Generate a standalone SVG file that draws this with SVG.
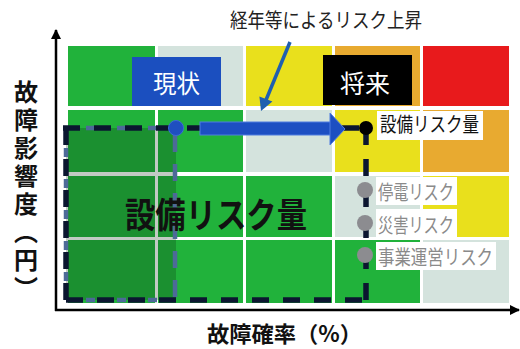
<svg xmlns="http://www.w3.org/2000/svg" width="520" height="349" viewBox="0 0 520 349">
<style>
.g{fill:#21b23b}.l{fill:#d4e3dd}.y{fill:#e9e01c}.o{fill:#e8aa30}.r{fill:#e81a1c}
.t{font-family:"Noto Sans CJK JP","Noto Sans",sans-serif}
.b{font-weight:bold;fill:#111}
.lab{font-size:20px;fill:#8a8a8a}
.box{fill:#fff}
</style>
<defs>
<marker id="ah" markerWidth="10" markerHeight="10" refX="9" refY="5" orient="auto" markerUnits="userSpaceOnUse">
<path d="M0,0 L10,5 L0,10 Z" fill="#000"/>
</marker>
</defs>
<rect width="520" height="349" fill="#fff"/>
<g id="grid">
<rect class="g" x="68" y="46" width="87" height="60"/>
<rect class="l" x="158" y="46" width="85" height="60"/>
<rect class="y" x="246" y="46" width="86" height="60"/>
<rect class="o" x="335" y="46" width="85" height="60"/>
<rect class="r" x="423" y="46" width="86" height="60"/>
<rect class="g" x="68" y="110" width="87" height="62"/>
<rect class="g" x="158" y="110" width="85" height="62"/>
<rect class="l" x="246" y="110" width="86" height="62"/>
<rect class="y" x="335" y="110" width="85" height="62"/>
<rect class="o" x="423" y="110" width="86" height="62"/>
<rect class="g" x="68" y="176" width="87" height="61"/>
<rect class="g" x="158" y="176" width="85" height="61"/>
<rect class="g" x="246" y="176" width="86" height="61"/>
<rect class="l" x="335" y="176" width="85" height="61"/>
<rect class="y" x="423" y="176" width="86" height="61"/>
<rect class="g" x="68" y="240" width="87" height="63"/>
<rect class="g" x="158" y="240" width="85" height="63"/>
<rect class="g" x="246" y="240" width="86" height="63"/>
<rect class="g" x="335" y="240" width="85" height="63"/>
<rect class="l" x="423" y="240" width="86" height="63"/>
</g>
<g id="current-area">
<rect x="66" y="128" width="110" height="172" fill="#0a2a10" opacity="0.25"/>
</g>
<g id="axes">
<line x1="56" y1="311" x2="56" y2="30" stroke="#000" stroke-width="2.5" marker-end="url(#ah)"/>
<line x1="55" y1="310" x2="519" y2="310" stroke="#000" stroke-width="2.5" marker-end="url(#ah)"/>
</g>
<g id="connectors">
<g stroke="#4d6a98" stroke-width="4.5" fill="none">
<line x1="66" y1="128" x2="176" y2="128" stroke-dasharray="9 22" stroke-dashoffset="-20"/>
<line x1="66" y1="128" x2="66" y2="300" stroke-dasharray="9 22" stroke-dashoffset="-20"/>
<line x1="66" y1="300" x2="176" y2="300" stroke-dasharray="9 22" stroke-dashoffset="-20"/>
<line x1="175" y1="135" x2="175" y2="300" stroke-dasharray="17 12"/>
</g>
<g stroke="#0b1630" stroke-width="5.5" fill="none" stroke-dasharray="17 14">
<line x1="63" y1="128" x2="366" y2="128"/>
<line x1="66" y1="128" x2="66" y2="302"/>
<line x1="66" y1="300" x2="366" y2="300"/>
<line x1="366" y1="128" x2="366" y2="300"/>
</g>
<g id="rise-arrow">
<rect x="200" y="122" width="131" height="13" fill="#1d4fc2" stroke="#4f7de0" stroke-width="1"/>
<path d="M330,113 L345,129 L330,145 Z" fill="#1d4fc2" stroke="#4f7de0" stroke-width="1"/>
</g>
<g id="trend-arrow">
<line x1="290" y1="42" x2="266" y2="100" stroke="#1f5fb0" stroke-width="3.5"/>
<path d="M261,111 L272.4,101.6 L259.4,96.4 Z" fill="#1f5fb0"/>
</g>
</g>
<g id="node-current-point"><circle cx="176" cy="128" r="7.5" fill="#1f4fc0" stroke="#3a6ad8" stroke-width="1"/></g>
<g id="node-future-point"><circle cx="366" cy="128" r="7" fill="#000"/></g>
<g id="node-current">
<rect x="132" y="57" width="89" height="49" fill="#1b4fbf"/>
<text class="t" x="153" y="93" font-size="25" fill="#fff" textLength="47" lengthAdjust="spacingAndGlyphs">現状</text>
</g>
<g id="node-future">
<rect x="323" y="55" width="89" height="50" fill="#000"/>
<text class="t" x="340" y="93" font-size="25" fill="#fff" textLength="50" lengthAdjust="spacingAndGlyphs">将来</text>
</g>
<g id="node-title">
<text class="t" x="230" y="28" font-size="20" fill="#222" textLength="192" lengthAdjust="spacingAndGlyphs">経年等によるリスク上昇</text>
</g>
<g id="node-equip-label">
<rect class="box" x="377" y="111" width="106" height="29"/>
<text class="t" x="380" y="132" font-size="20" fill="#111" textLength="99" lengthAdjust="spacingAndGlyphs">設備リスク量</text>
</g>
<g id="node-outage">
<rect class="box" x="376" y="177" width="81" height="28"/>
<circle cx="365" cy="190" r="8" fill="#8c8c90"/>
<text class="t lab" x="378" y="200" textLength="76" lengthAdjust="spacingAndGlyphs">停電リスク</text>
</g>
<g id="node-disaster">
<rect class="box" x="376" y="209" width="81" height="28"/>
<circle cx="365" cy="223" r="8" fill="#8c8c90"/>
<text class="t lab" x="378" y="233" textLength="76" lengthAdjust="spacingAndGlyphs">災害リスク</text>
</g>
<g id="node-business">
<rect class="box" x="376" y="242" width="120" height="28"/>
<circle cx="365" cy="255" r="8" fill="#8c8c90"/>
<text class="t lab" x="378" y="265" textLength="115" lengthAdjust="spacingAndGlyphs">事業運営リスク</text>
</g>
<g id="node-equip-big">
<text class="t b" x="125" y="228" font-size="35" textLength="182" lengthAdjust="spacingAndGlyphs">設備リスク量</text>
</g>
<g id="node-xlabel">
<text class="t b" x="207" y="342" font-size="22" textLength="155" lengthAdjust="spacingAndGlyphs">故障確率（%）</text>
</g>
<g id="node-ylabel">
<text class="t b" x="26" y="80" font-size="24" writing-mode="vertical-rl" letter-spacing="4">故障影響度（円）</text>
</g>
</svg>
